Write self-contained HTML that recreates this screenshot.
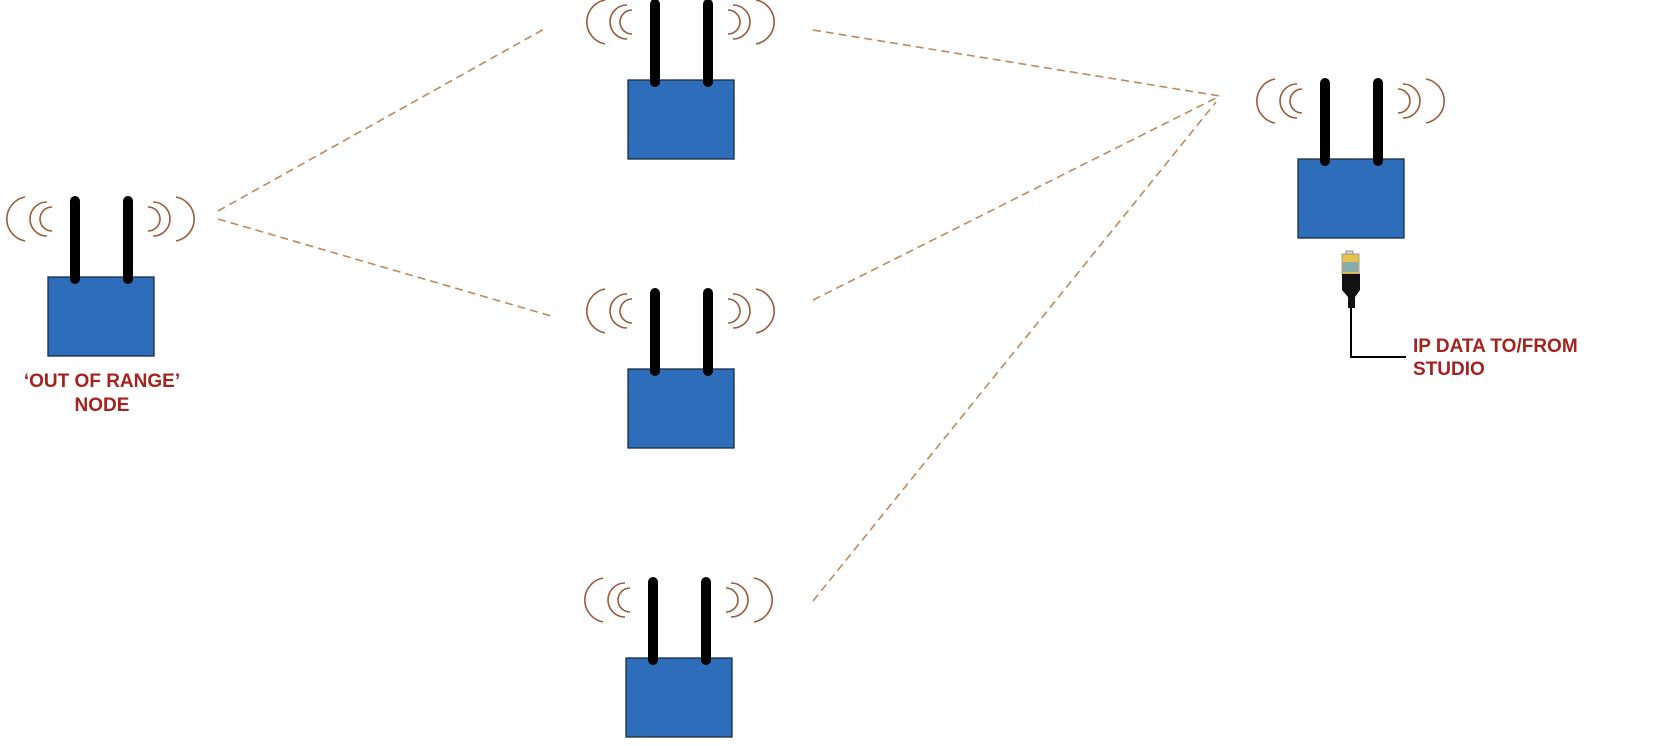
<!DOCTYPE html>
<html><head><meta charset="utf-8"><style>
html,body{margin:0;padding:0;background:#fff;}
svg{display:block;}
text{font-family:"Liberation Sans",Arial,sans-serif;font-weight:bold;fill:#a3231f;font-size:19px;}
</style></head><body>
<svg width="1662" height="746" viewBox="0 0 1662 746" xmlns="http://www.w3.org/2000/svg">
<defs>
<g id="node">
  <g fill="none" stroke="#9a5a3c" stroke-width="1.6">
    <path d="M4,-70 A12,12 0 0 0 4,-46"/>
    <path d="M-1,-75 A17,17 0 0 0 -1,-41"/>
    <path d="M-23,-80 A22.4,22.4 0 0 0 -23,-36"/>
    <path d="M100,-70 A12,12 0 0 1 100,-46"/>
    <path d="M105,-75 A17,17 0 0 1 105,-41"/>
    <path d="M128,-80 A22.4,22.4 0 0 1 128,-36"/>
  </g>
  <rect x="0" y="0" width="106" height="79" fill="#2e6dba" stroke="#1b2b45" stroke-width="1.3"/>
  <g stroke="#000" stroke-width="10" stroke-linecap="round">
    <line x1="27" y1="-76" x2="27" y2="2"/>
    <line x1="80" y1="-76" x2="80" y2="2"/>
  </g>
</g>
</defs>
<g fill="none" stroke="#bb8a5e" stroke-width="1.6" stroke-dasharray="8,5">
  <line x1="218" y1="211" x2="546" y2="28"/>
  <line x1="218" y1="219" x2="551" y2="316"/>
  <line x1="813" y1="30" x2="1220" y2="96"/>
  <line x1="813" y1="300" x2="1220" y2="96"/>
  <line x1="813" y1="601" x2="1216" y2="102"/>
</g>
<use href="#node" x="48" y="277"/>
<use href="#node" x="628" y="80"/>
<use href="#node" x="628" y="369"/>
<use href="#node" x="626" y="658"/>
<use href="#node" x="1298" y="159"/>
<!-- RJ45 connector -->
<rect x="1346" y="251" width="7" height="4" fill="#ddd" stroke="#777" stroke-width="0.8"/>
<rect x="1342" y="254" width="17" height="20" fill="#e8c24a" stroke="#888" stroke-width="0.8"/>
<rect x="1343" y="262" width="15" height="10" fill="#8aa" />
<path d="M1342,274 L1360,274 L1360,290 L1355,297 L1355,308 L1348,308 L1348,297 L1342,290 Z" fill="#111"/>
<path d="M1351,308 L1351,357 L1406,357" fill="none" stroke="#000" stroke-width="2"/>
<text x="102" y="387" text-anchor="middle">‘OUT OF RANGE’</text>
<text x="102" y="411" text-anchor="middle">NODE</text>
<text x="1413" y="352">IP DATA TO/FROM</text>
<text x="1413" y="375">STUDIO</text>
</svg>
</body></html>
